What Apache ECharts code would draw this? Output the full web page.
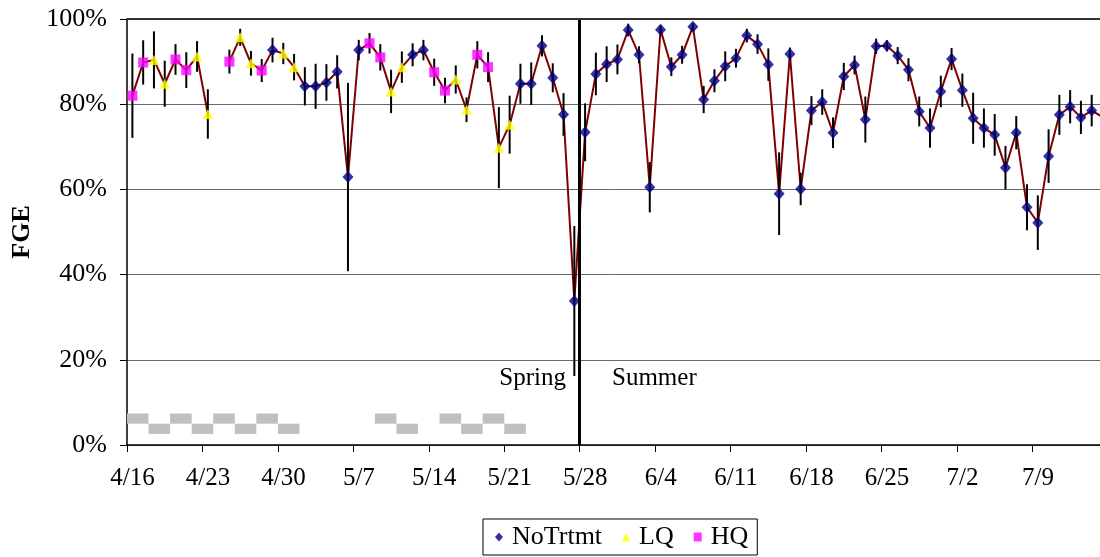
<!DOCTYPE html>
<html>
<head>
<meta charset="utf-8">
<script src="https://cdn.jsdelivr.net/npm/echarts@6/dist/echarts.min.js"></script>
<style>
  html, body { margin: 0; padding: 0; background: #fff; }
  #chart { width: 1100px; height: 557px; }
</style>
</head>
<body>
<div id="chart"></div>
<script>
// Daily FGE (%) from 4/16 onward, one entry per day (null = not sampled)
const fge = [
  82.0, 89.8, 90.4, 84.8, 90.5, 88.0, 91.2, 77.7, null, 90.0,
  95.7, 89.6, 87.9, 92.7, 91.9, 88.7, 84.2, 84.2, 85.1, 87.6,
  62.9, 92.7, 94.3, 91.0, 83.0, 88.7, 91.6, 92.7, 87.5, 83.2,
  85.8, 78.7, 91.6, 88.7, 69.8, 75.2, 84.8, 84.8, 93.7, 86.2,
  77.6, 33.8, 73.4, 87.1, 89.4, 90.5, 97.4, 91.6, 60.5, 97.5,
  88.8, 91.6, 98.2, 81.1, 85.5, 88.9, 90.8, 96.1, 94.1, 89.3,
  59.0, 91.8, 60.1, 78.5, 80.5, 73.3, 86.5, 89.2, 76.4, 93.6,
  93.7, 91.4, 88.1, 78.3, 74.4, 83.0, 90.6, 83.3, 76.7, 74.4,
  72.8, 65.1, 73.3, 55.8, 52.2, 67.8, 77.5, 79.4, 76.9, 78.5,
  77.0
];
// Half-width of the error bar for each day (% points)
const fgeErr = [
  9.9, 5.2, 6.7, 5.4, 3.6, 4.2, 3.6, 5.8, null, 2.8,
  2.0, 2.9, 2.7, 2.9, 2.5, 3.1, 4.5, 5.3, 4.3, 3.9,
  22.1, 2.4, 2.4, 3.1, 5.1, 3.7, 2.7, 2.4, 3.2, 3.0,
  3.3, 2.9, 3.2, 3.5, 9.5, 6.8, 4.7, 5.0, 2.5, 3.4,
  5.0, 17.6, 6.8, 5.0, 4.2, 3.5, 1.5, 2.0, 5.9, 1.0,
  2.2, 2.1, 0.8, 3.2, 2.7, 3.5, 2.2, 1.6, 2.3, 3.8,
  9.7, 1.5, 3.8, 3.4, 3.0, 3.6, 3.2, 2.2, 5.4, 1.8,
  1.3, 2.0, 2.7, 3.5, 4.6, 3.7, 2.6, 3.9, 6.0, 4.6,
  4.9, 5.1, 3.9, 5.4, 6.4, 6.3, 4.7, 3.9, 3.9, 3.7,
  3.5
];
// Treatment per day: N = NoTrtmt, L = LQ, H = HQ, '' = none
const treatment = [
  'H','H','L','L','H','H','L','L','', 'H',
  'L','L','H','N','L','L','N','N','N','N',
  'N','N','H','H','L','L','N','N','H','H',
  'L','L','H','H','L','L','N','N','N','N',
  'N','N','N','N','N','N','N','N','N','N',
  'N','N','N','N','N','N','N','N','N','N',
  'N','N','N','N','N','N','N','N','N','N',
  'N','N','N','N','N','N','N','N','N','N',
  'N','N','N','N','N','N','N','N','N','N',
  'N'
];
// Weekly tick labels (every 7 days from 4/16)
const tickLabels = ['4/16','4/23','4/30','5/7','5/14','5/21','5/28','6/4','6/11','6/18','6/25','7/2','7/9'];
// Operation schedule strip: [first day, last day] and row (1 = upper, 0 = lower)
const stripDays = [[0,2],[2,4],[4,6],[6,8],[8,10],[10,12],[12,14],[14,16],[23,25],[25,27],[29,31],[31,33],[33,35],[35,37]];
const stripRow  = [1,0,1,0,1,0,1,0,1,0,1,0,1,0];
// Season boundary (day index of 5/28)
const seasonBreak = 42;

const FONT = "'Liberation Serif', 'Times New Roman', serif";

const lineData = fge.map((v, d) => [d + 0.5, v == null ? '-' : v]);
const pts = code => fge.map((v, d) => treatment[d] === code && v != null ? [d + 0.5, v] : null).filter(Boolean);
const errData = fge.map((v, d) => v == null ? null : [d + 0.5, v, fgeErr[d]]).filter(Boolean);
const stripData = stripDays.map((s, i) => [s[0], s[1], stripRow[i]]);

const chart = echarts.init(document.getElementById('chart'), null, { renderer: 'canvas' });

chart.setOption({
  animation: false,
  backgroundColor: '#fff',
  textStyle: { fontFamily: FONT },
  grid: { left: 127, top: 19, width: 973, bottom: 112 },
  xAxis: {
    type: 'value', min: 0, max: 90.27, interval: 7,
    axisLine: { onZero: false, lineStyle: { color: '#000', width: 1.5 } },
    axisTick: { show: true, length: 7, lineStyle: { color: '#000', width: 1 } },
    splitLine: { show: false },
    axisLabel: {
      color: '#000', fontSize: 25, fontFamily: FONT, margin: 21,
      padding: [0, 0, 0, 11],
      showMaxLabel: false,
      formatter: v => tickLabels[Math.round(v / 7)] || ''
    }
  },
  yAxis: {
    type: 'value', min: 0, max: 100, interval: 20,
    name: 'FGE', nameLocation: 'middle', nameGap: 92, nameRotate: 90,
    nameTextStyle: { color: '#000', fontSize: 26, fontWeight: 'bold', fontFamily: FONT },
    axisLine: { show: true, lineStyle: { color: '#000', width: 1.5 } },
    axisTick: { show: true, length: 7, lineStyle: { color: '#000' } },
    splitLine: { show: true, lineStyle: { color: '#666', width: 1 } },
    axisLabel: { color: '#000', fontSize: 26, fontFamily: FONT, margin: 20, formatter: '{value}%' }
  },
  legend: {
    top: 519, left: 483,
    data: ['NoTrtmt', 'LQ', 'HQ'],
    borderColor: '#000', borderWidth: 1, padding: [5, 9, 5, 12],
    itemWidth: 8, itemHeight: 9, itemGap: 20,
    textStyle: { color: '#000', fontSize: 26, fontFamily: FONT, padding: [0, 0, 0, 4] }
  },
  series: [
    {
      name: 'strip', type: 'custom', silent: true, z: 1,
      data: stripData,
      renderItem: (params, api) => {
        const row = api.value(2);
        const lo = row ? 5.0 : 2.6, hi = row ? 7.4 : 5.0;
        const p0 = api.coord([api.value(0), hi]);
        const p1 = api.coord([api.value(1), lo]);
        return { type: 'rect', shape: { x: p0[0], y: p0[1], width: p1[0] - p0[0], height: p1[1] - p0[1] }, style: { fill: '#c0c0c0' } };
      }
    },
    {
      name: 'FGE', type: 'line', data: lineData, showSymbol: false, symbol: 'none',
      connectNulls: false, clip: true, z: 2,
      lineStyle: { color: '#800000', width: 2 },
      markLine: {
        silent: true, symbol: 'none', label: { show: false },
        data: [
          { xAxis: seasonBreak, lineStyle: { color: '#000', width: 3, type: 'solid' } },
          { yAxis: 100, lineStyle: { color: '#333', width: 2, type: 'solid' } }
        ]
      }
    },
    {
      name: 'err', type: 'custom', silent: true, z: 3, clip: true,
      data: errData,
      renderItem: (params, api) => {
        const x = api.value(0), v = api.value(1), e = api.value(2);
        const a = api.coord([x, v + e]);
        const b = api.coord([x, v - e]);
        return { type: 'line', shape: { x1: a[0], y1: a[1], x2: b[0], y2: b[1] }, style: { stroke: '#000', lineWidth: 2 } };
      }
    },
    {
      name: 'NoTrtmt', type: 'scatter', data: pts('N'), symbol: 'diamond', symbolSize: [11, 12], clip: true, z: 4,
      itemStyle: { color: '#000080' }
    },
    {
      name: 'LQ', type: 'scatter', data: pts('L'), symbol: 'triangle', symbolSize: [11, 10], clip: true, z: 4,
      itemStyle: { color: '#ffff00' }
    },
    {
      name: 'HQ', type: 'scatter', data: pts('H'), symbol: 'rect', symbolSize: [10, 10], clip: true, z: 4,
      itemStyle: { color: '#ff00ff' }
    }
  ],
  graphic: [
    { type: 'text', right: 1100 - 566, top: 366, style: { text: 'Spring', fill: '#000', font: '25px ' + FONT } },
    { type: 'text', left: 612, top: 366, style: { text: 'Summer', fill: '#000', font: '25px ' + FONT } }
  ]
});
</script>
</body>
</html>
